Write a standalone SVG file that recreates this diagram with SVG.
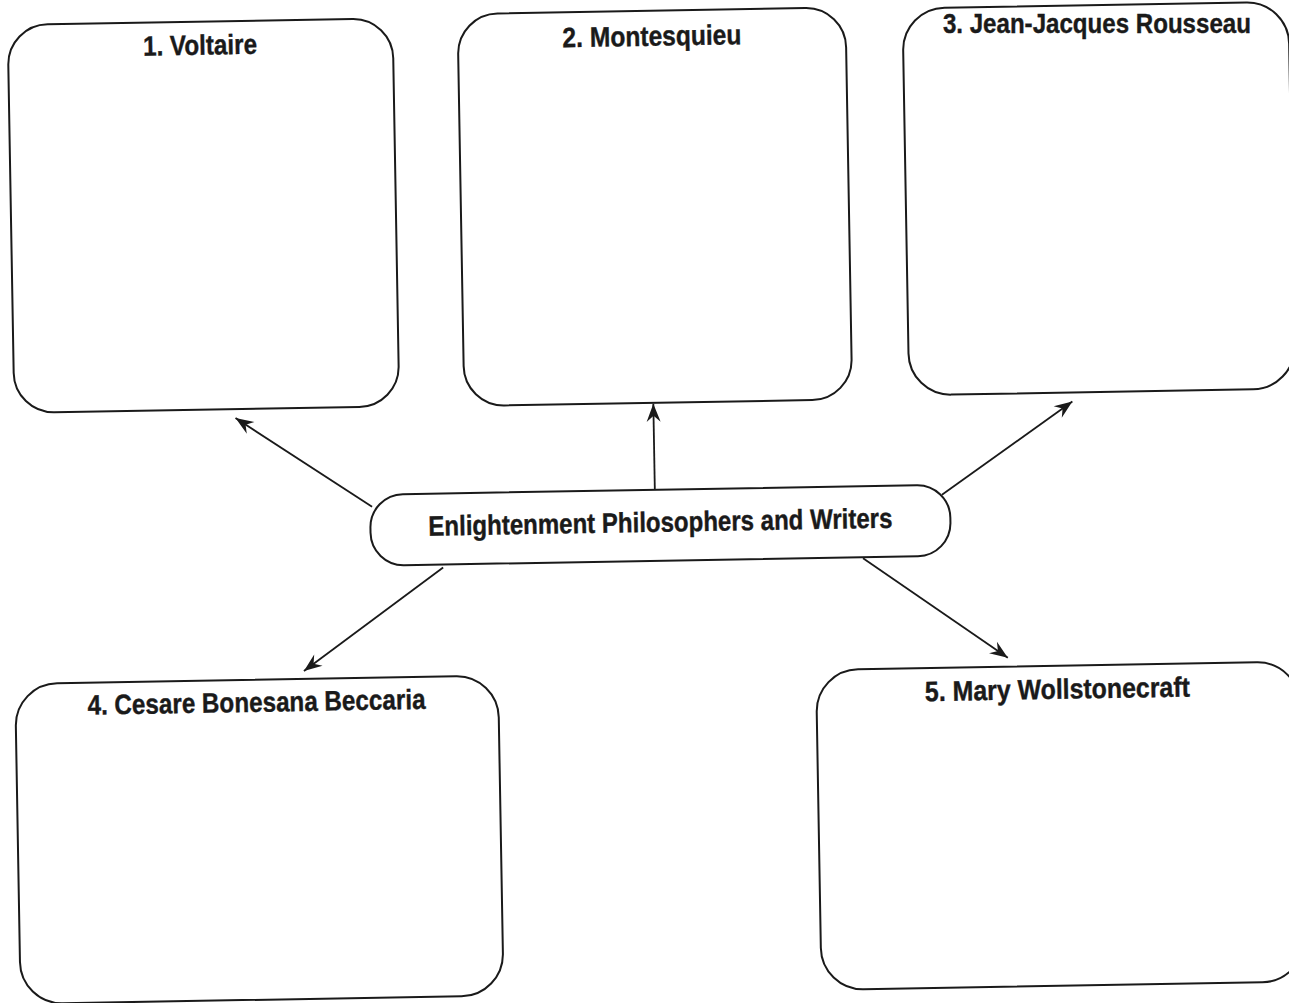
<svg xmlns="http://www.w3.org/2000/svg" width="1289" height="1003" viewBox="0 0 1289 1003">
<defs>
<style>
.box{fill:none;stroke:#1a1a1a;stroke-width:2}
.t{font-family:"Liberation Sans",Arial,sans-serif;font-weight:bold;font-size:28px;fill:#1a1a1a;stroke:#1a1a1a;stroke-width:0.4;text-anchor:middle}
.c{stroke:#1a1a1a;stroke-width:1.8;fill:none;marker-end:url(#ah)}
</style>
<marker id="ah" markerUnits="userSpaceOnUse" viewBox="-19 -8 21 16" markerWidth="21" markerHeight="16" refX="0" refY="0" orient="auto">
<path d="M0,0 L-18,-7 L-12,0 L-18,7 Z" fill="#1a1a1a"/>
</marker>
</defs>
<rect width="1289" height="1003" fill="#ffffff"/>
<g transform="rotate(-1 644 500)">
<g id="connectors">
<line class="c" x1="372" y1="502" x2="237" y2="411"/>
<line class="c" x1="655" y1="490" x2="655" y2="404"/>
<line class="c" x1="942" y1="500" x2="1074" y2="409"/>
<line class="c" x1="442" y1="564" x2="301" y2="665"/>
<line class="c" x1="862" y1="562" x2="1005" y2="664"/>
</g>
<g id="n1">
<rect class="box" x="16" y="14" width="385" height="388" rx="40" ry="40"/>
<text class="t" x="208" y="47" textLength="114" lengthAdjust="spacingAndGlyphs">1. Voltaire</text>
</g>
<g id="n2">
<rect class="box" x="466" y="11" width="388" height="392" rx="40" ry="40"/>
<text class="t" x="660" y="46" textLength="179" lengthAdjust="spacingAndGlyphs">2. Montesquieu</text>
</g>
<g id="n3">
<rect class="box" x="911" y="13" width="386" height="387" rx="42" ry="42"/>
<text class="t" x="1105" y="41" transform="rotate(1 1105 41)" textLength="308" lengthAdjust="spacingAndGlyphs">3. Jean-Jacques Rousseau</text>
</g>
<g id="n4">
<rect class="box" x="12" y="673" width="483" height="320" rx="42" ry="42"/>
<text class="t" x="253" y="705" textLength="338" lengthAdjust="spacingAndGlyphs">4. Cesare Bonesana Beccaria</text>
</g>
<g id="n5">
<rect class="box" x="813" y="673" width="483" height="320" rx="42" ry="42"/>
<text class="t" x="1054" y="706" textLength="265" lengthAdjust="spacingAndGlyphs">5. Mary Wollstonecraft</text>
</g>
<g id="center">
<rect class="box" x="370" y="490" width="580" height="71" rx="33" ry="33" fill="#ffffff"/>
<text class="t" x="660" y="532" textLength="464" lengthAdjust="spacingAndGlyphs">Enlightenment Philosophers and Writers</text>
</g>
</g>
</svg>
